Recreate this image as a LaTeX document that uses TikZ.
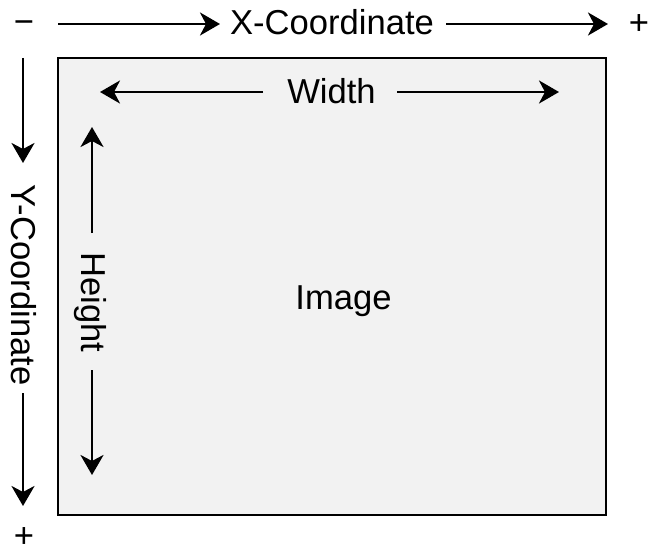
\documentclass[tikz,border=0pt]{standalone}
\usepackage{fontspec}
\setmainfont{Liberation Sans}
\usetikzlibrary{arrows.meta}
\definecolor{boxfill}{HTML}{F2F2F2}
\tikzset{
  lbl/.style={inner sep=0pt, font=\fontsize{34.6}{40}\selectfont},
  arr/.style={line width=2.9pt, -{Stealth[length=20pt,width=23pt,inset=6pt]}},
  imgbox/.style={draw=black, fill=boxfill, line width=2.8pt, inner sep=0pt}
}
\begin{document}
\begin{tikzpicture}[x=1pt,y=-1pt]
\useasboundingbox (0,0) rectangle (648,551);
% image box
\node[imgbox, minimum width=548pt, minimum height=457pt] (img) at (332,286.5) {};
\node[lbl, anchor=base] (imgtxt) at (343.5,309) {Image};
% top x-coordinate
\node[lbl] (minus) at (24,27) {−};
\node[lbl] (plusx) at (639,25) {+};
\node[lbl, anchor=base] (xtxt) at (332,35) {X-Coordinate};
\coordinate (x1) at (58,24);
\coordinate (x2) at (220,24);
\coordinate (x3) at (446,24);
\coordinate (x4) at (608,24);
\draw[arr] (x1) -- (x2);
\draw[arr] (x3) -- (x4);
% left y-coordinate
\node[lbl] (plusy) at (24,538) {+};
\node[lbl, anchor=base, rotate=-90] (ytxt) at (12,285) {Y-Coordinate};
\coordinate (y1) at (23,58);
\coordinate (y2) at (23,163);
\coordinate (y3) at (23,393);
\coordinate (y4) at (23,506);
\draw[arr] (y1) -- (y2);
\draw[arr] (y3) -- (y4);
% width
\node[lbl, anchor=base] (wtxt) at (331.5,103) {Width};
\coordinate (w1) at (263,92);
\coordinate (w2) at (100,92);
\coordinate (w3) at (397,92);
\coordinate (w4) at (559,92);
\draw[arr] (w1) -- (w2);
\draw[arr] (w3) -- (w4);
% height
\node[lbl, anchor=base, rotate=-90] (htxt) at (81,302.5) {Height};
\coordinate (h1) at (92,233);
\coordinate (h2) at (92,127);
\coordinate (h3) at (92,370);
\coordinate (h4) at (92,475);
\draw[arr] (h1) -- (h2);
\draw[arr] (h3) -- (h4);
\end{tikzpicture}
\end{document}
